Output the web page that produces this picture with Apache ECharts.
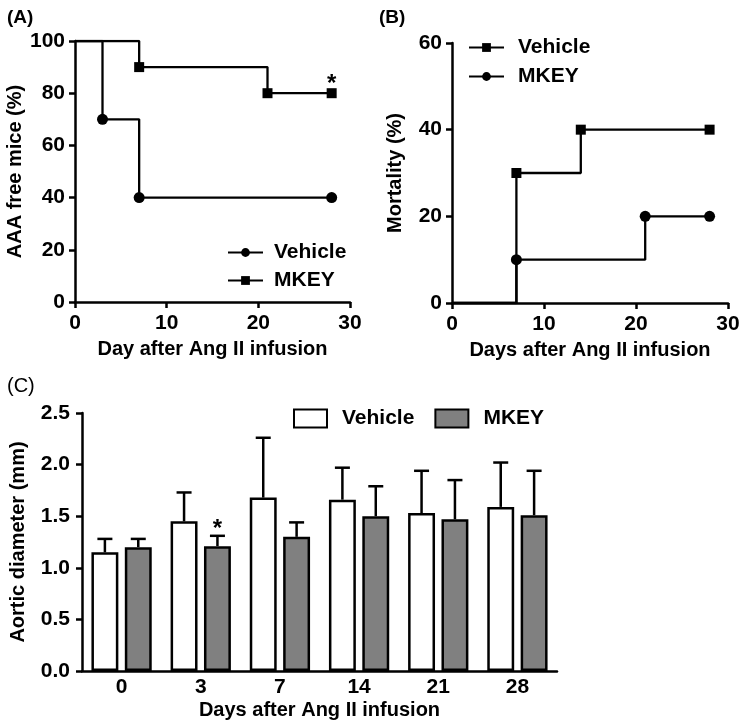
<!DOCTYPE html>
<html><head><meta charset="utf-8">
<script src="https://cdn.jsdelivr.net/npm/echarts@6/dist/echarts.min.js"></script>
<style>html,body{margin:0;padding:0;background:#fff}#c{width:745px;height:726px}</style>
</head><body><div id="c"></div>
<script>
// ---- Data ----
// Panel A: AAA free mice (%) — step points [day, %]
const aVehicle = [[0,100],[3,70],[7,40],[28,40]];
const aMkey    = [[0,100],[7,90],[21,80],[28,80]];
const aMkeySig = [false,false,false,true];
// Panel B: Mortality (%)
const bVehicle = [[0,0],[7,30],[14,40],[28,40]];
const bMkey    = [[0,0],[7,10],[21,20],[28,20]];
// Panel C: Aortic diameter (mm)
const cDays = ['0','3','7','14','21','28'];
const cVehicleMean = [1.15,1.45,1.68,1.66,1.53,1.59];
const cVehicleSD   = [0.13,0.28,0.58,0.31,0.41,0.43];
const cMkeyMean    = [1.20,1.21,1.30,1.50,1.47,1.51];
const cMkeySD      = [0.08,0.10,0.14,0.29,0.38,0.43];
const cMkeySig     = [false,true,false,false,false,false];
const survTicks = {aMax:100, bMax:60, interval:20, xMax:30, xInterval:10};

const FONT = "'Liberation Sans', Arial, Helvetica, sans-serif";
const BLACK = '#000';
const GREY = '#808080';

function stepData(pts, sig){
  return pts.map((p,i)=>{
    const item = {value:p};
    if(i===0) item.symbol='none';
    if(sig && sig[i]) item.label={show:true,formatter:'*',position:'top',distance:1,offset:[0,9],
      color:BLACK,fontFamily:FONT,fontWeight:'bold',fontSize:24};
    return item;
  });
}
function lineSeries(name, data, sym, xi){
  return {name, type:'line', xAxisIndex:xi, yAxisIndex:xi, step:'end', data,
    symbol:sym, symbolSize: sym==='circle'?11:10, showSymbol:true,
    lineStyle:{color:BLACK,width:2.3}, itemStyle:{color:BLACK},
    emphasis:{disabled:true}, animation:false, z:5};
}
const axLine = {show:true, onZero:false, lineStyle:{color:BLACK,width:2.5}};
const axTick = {show:true, length:6, inside:false, lineStyle:{color:BLACK,width:2.5}};
const lab = (m)=>({color:BLACK,fontFamily:FONT,fontWeight:'bold',fontSize:21,margin:m});
const nameStyle = {color:BLACK,fontFamily:FONT,fontWeight:'bold',fontSize:20};

function errRender(side){
  return function(params, api){
    const i = api.value(0);
    const mean = api.value(1), sd = api.value(2);
    const band = api.size([1,0])[0];
    const barW = band*0.34, gap = barW*0.24;
    const off = side*(barW+gap)/2;
    const p0 = api.coord([i, mean]);
    const p1 = api.coord([i, mean+sd]);
    const x = p0[0]+off;
    const children = [
      {type:'line', shape:{x1:x,y1:p0[1],x2:x,y2:p1[1]}, style:{stroke:BLACK,lineWidth:2.5}},
      {type:'line', shape:{x1:x-7.5,y1:p1[1],x2:x+7.5,y2:p1[1]}, style:{stroke:BLACK,lineWidth:2.5}}
    ];
    if(api.value(3)){
      children.push({type:'text', style:{text:'*', x:x, y:p1[1]+6, align:'center', verticalAlign:'bottom',
        fill:BLACK, font:'bold 24px '+FONT}});
    }
    return {type:'group', children};
  };
}

const option = {
  backgroundColor:'#fff',
  animation:false,
  title:[
    {text:'(A)', left:2, top:3, textStyle:{color:BLACK,fontFamily:FONT,fontWeight:'bold',fontSize:19}},
    {text:'(B)', left:374, top:3, textStyle:{color:BLACK,fontFamily:FONT,fontWeight:'bold',fontSize:19}},
    {text:'(C)', left:2, top:371, textStyle:{color:BLACK,fontFamily:FONT,fontWeight:'normal',fontSize:20}}
  ],
  grid:[
    {left:75, top:41, width:275, height:261},
    {left:452, top:43, width:276, height:260},
    {left:77, top:413, width:480, height:258}
  ],
  xAxis:[
    {gridIndex:0, type:'value', min:0, max:survTicks.xMax, interval:survTicks.xInterval,
     axisLine:axLine, axisTick:axTick, splitLine:{show:false}, axisLabel:lab(11),
     name:'Day after Ang II infusion', nameLocation:'middle', nameGap:37, nameTextStyle:nameStyle},
    {gridIndex:1, type:'value', min:0, max:survTicks.xMax, interval:survTicks.xInterval,
     axisLine:axLine, axisTick:axTick, splitLine:{show:false}, axisLabel:lab(11),
     name:'Days after Ang II infusion', nameLocation:'middle', nameGap:37, nameTextStyle:nameStyle},
    {gridIndex:2, type:'category', data:cDays,
     axisLine:axLine, axisTick:{show:false}, splitLine:{show:false}, axisLabel:lab(6),
     name:'Days after Ang II infusion', nameLocation:'middle', nameGap:29, nameTextStyle:nameStyle}
  ],
  yAxis:[
    {gridIndex:0, type:'value', min:0, max:survTicks.aMax, interval:survTicks.interval,
     axisLine:axLine, axisTick:axTick, splitLine:{show:false}, axisLabel:lab(10),
     name:'AAA free mice (%)', nameLocation:'middle', nameGap:50, nameTextStyle:nameStyle},
    {gridIndex:1, type:'value', min:0, max:survTicks.bMax, interval:survTicks.interval,
     axisLine:axLine, axisTick:axTick, splitLine:{show:false}, axisLabel:lab(10),
     name:'Mortality (%)', nameLocation:'middle', nameGap:47, nameTextStyle:nameStyle},
    {gridIndex:2, type:'value', min:0, max:2.5, interval:0.5,
     axisLine:axLine, axisTick:axTick, splitLine:{show:false},
     axisLabel:Object.assign(lab(12),{formatter:v=>v.toFixed(1)}),
     name:'Aortic diameter (mm)', nameLocation:'middle', nameGap:54, nameTextStyle:nameStyle}
  ],
  legend:[
    {data:['A|Vehicle','A|MKEY'], orient:'vertical', left:222, top:237, itemWidth:35, itemHeight:11, itemGap:7,
     formatter:n=>n.split('|')[1], selectedMode:false,
     textStyle:{color:BLACK,fontFamily:FONT,fontWeight:'bold',fontSize:21,lineHeight:21,padding:[0,0,0,6]}},
    {data:['B|Vehicle','B|MKEY'], orient:'vertical', left:463, top:32, itemWidth:35, itemHeight:11, itemGap:8,
     formatter:n=>n.split('|')[1], selectedMode:false,
     textStyle:{color:BLACK,fontFamily:FONT,fontWeight:'bold',fontSize:21,lineHeight:21,padding:[0,0,0,9]}},
    {data:[{name:'C|Vehicle',icon:'rect'},{name:'C|MKEY',icon:'rect'}], orient:'horizontal', left:288, top:403, itemWidth:33, itemHeight:18, itemGap:20,
     formatter:n=>n.split('|')[1], selectedMode:false,
     textStyle:{color:BLACK,fontFamily:FONT,fontWeight:'bold',fontSize:21,lineHeight:21,padding:[0,0,0,10]}}
  ],
  series:[
    lineSeries('A|Vehicle', stepData(aVehicle), 'circle', 0),
    lineSeries('A|MKEY', stepData(aMkey, aMkeySig), 'rect', 0),
    lineSeries('B|Vehicle', stepData(bVehicle), 'rect', 1),
    lineSeries('B|MKEY', stepData(bMkey), 'circle', 1),
    {name:'C|Vehicle', type:'bar', xAxisIndex:2, yAxisIndex:2, data:cVehicleMean,
     barWidth:'34%', barGap:'24%', itemStyle:{color:'#fff', borderColor:BLACK, borderWidth:2.5},
     emphasis:{disabled:true}},
    {name:'C|MKEY', type:'bar', xAxisIndex:2, yAxisIndex:2, data:cMkeyMean,
     barWidth:'34%', barGap:'24%', itemStyle:{color:GREY, borderColor:BLACK, borderWidth:2.5},
     emphasis:{disabled:true}},
    {type:'custom', xAxisIndex:2, yAxisIndex:2, renderItem:errRender(-1),
     data:cDays.map((d,i)=>[i,cVehicleMean[i],cVehicleSD[i],0]), z:3, silent:true},
    {type:'custom', xAxisIndex:2, yAxisIndex:2, renderItem:errRender(1),
     data:cDays.map((d,i)=>[i,cMkeyMean[i],cMkeySD[i],cMkeySig[i]?1:0]), z:3, silent:true}
  ]
};
const chart = echarts.init(document.getElementById('c'), null, {renderer:'canvas'});
chart.setOption(option);
</script></body></html>
